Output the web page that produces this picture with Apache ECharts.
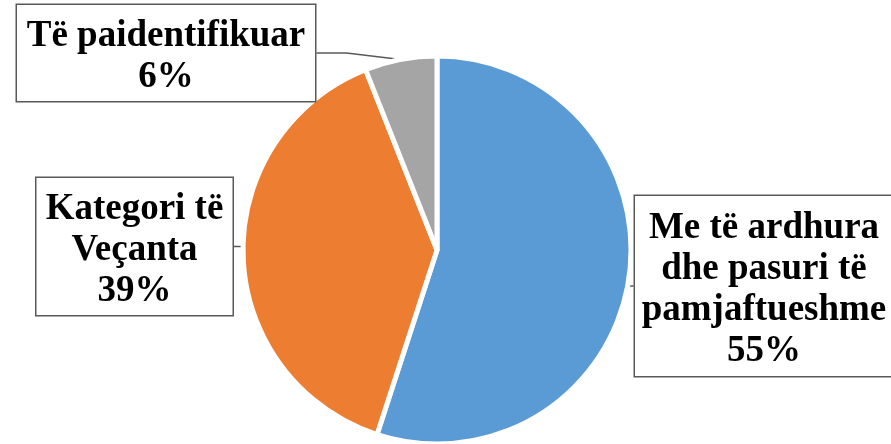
<!DOCTYPE html>
<html>
<head>
<meta charset="utf-8">
<script src="https://cdn.jsdelivr.net/npm/echarts@6/dist/echarts.min.js"></script>
<style>
html,body{margin:0;padding:0;background:#fff;}
#chart{width:891px;height:444px;}
</style>
</head>
<body>
<div id="chart"></div>
<script>
var categories = ['Me të ardhura\ndhe pasuri të\npamjaftueshme', 'Kategori të\nVeçanta', 'Të paidentifikuar'];
var values = [55, 39, 6];
var colors = ['#5B9BD5', '#ED7D31', '#A5A5A5'];

var labelBoxes = [
  {cx: 764, y: 196, width: 250, padding: [12, 4, 4, 4]},
  {cx: 134.5, y: 178, width: 178, padding: [11, 9, 3, 9]},
  {cx: 166, y: 5, width: 278, padding: [11, 10, 3, 10]}
];

var chart = echarts.init(document.getElementById('chart'));
var data = categories.map(function (c, i) {
  return {
    name: c,
    value: values[i],
    itemStyle: {color: colors[i]},
    label: {width: labelBoxes[i].width, padding: labelBoxes[i].padding}
  };
});

chart.setOption({
  animation: false,
  series: [{
    type: 'pie',
    center: [437, 250],
    radius: 194,
    startAngle: 90,
    clockwise: true,
    percentPrecision: 0,
    data: data,
    itemStyle: {borderColor: '#fff', borderWidth: 5},
    label: {
      show: true,
      position: 'outside',
      formatter: '{b}\n{d}%',
      fontFamily: 'Liberation Serif',
      fontWeight: 'bold',
      fontSize: 37,
      lineHeight: 41,
      color: '#000',
      align: 'center',
      overflow: 'none',
      backgroundColor: '#fff',
      borderColor: '#595959',
      borderWidth: 1.5
    },
    labelLine: {
      show: true,
      lineStyle: {color: '#595959', width: 1.5}
    },
    labelLayout: function (params) {
      var b = labelBoxes[params.dataIndex];
      return {x: b.cx, y: b.y, align: 'center', verticalAlign: 'top'};
    }
  }]
});
</script>
</body>
</html>
